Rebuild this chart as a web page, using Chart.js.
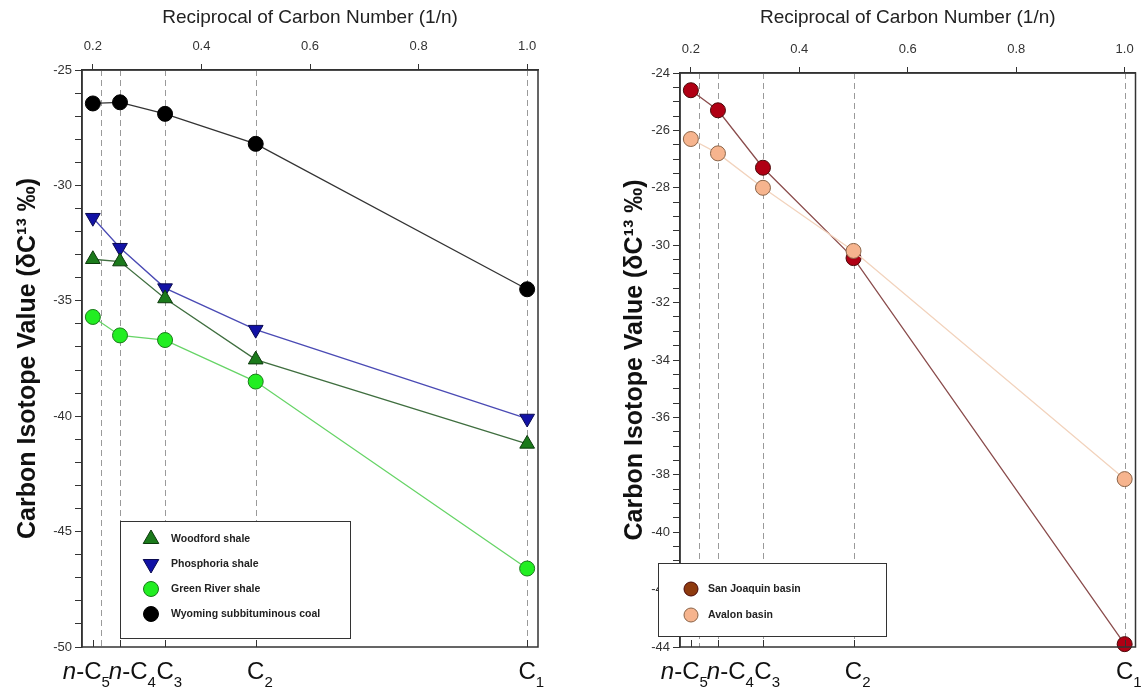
<!DOCTYPE html>
<html>
<head>
<meta charset="utf-8">
<script src="https://cdn.jsdelivr.net/npm/chart.js@4.4.0/dist/chart.umd.min.js"></script>
<style>
  html, body { margin: 0; padding: 0; background: #fff; }
  #wrap { position: relative; width: 1144px; height: 690px; }
  #cLeft { position: absolute; left: 0; top: 0; }
  #cRight { position: absolute; left: 570px; top: 0; }
</style>
</head>
<body>
<div id="wrap">
  <canvas id="cLeft" width="570" height="690"></canvas>
  <canvas id="cRight" width="574" height="690"></canvas>
</div>
<script>
// x = 1/n for n-C5, n-C4, C3, C2, C1
const recipN = [0.2, 0.25, 0.333, 0.5, 1.0];
const carbonLabels = ['n-C5', 'n-C4', 'C3', 'C2', 'C1'];
const guideX = [0.215, 0.25, 0.333, 0.5, 1.0];
const topTicks = [0.2, 0.4, 0.6, 0.8, 1.0];

// left panel (per mil)
const woodford   = [-33.2, -33.3, -34.9, -37.55, -41.2];
const phosphoria = [-31.4, -32.7, -34.45, -36.25, -40.1];
const greenRiver = [-35.7, -36.5, -36.7, -38.5, -46.6];
const wyoming    = [-26.45, -26.4, -26.9, -28.2, -34.5];
const leftNames = ['Woodford shale', 'Phosphoria shale', 'Green River shale', 'Wyoming subbituminous coal'];

// right panel
const sanJoaquin = [-24.6, -25.3, -27.3, -30.45, -43.9];
const avalon     = [-26.3, -26.8, -28.0, -30.2, -38.15];
const rightNames = ['San Joaquin basin', 'Avalon basin'];

const FONT = "'Liberation Sans', Arial, sans-serif";
const yTitle = 'Carbon Isotope Value (\u03B4C\u00B9\u00B3 \u2030)';

function series(label, values, s) {
  return {
    label,
    data: recipN.map((x, i) => ({ x, y: values[i] })),
    borderColor: s.line, borderWidth: 1.3,
    pointStyle: s.style, pointRotation: s.rot || 0, pointRadius: s.r,
    pointHoverRadius: s.r,
    pointBackgroundColor: s.fill, pointBorderColor: s.edge, pointBorderWidth: 1,
    legendFill: s.legend || s.fill,
    tension: 0, clip: false, order: s.order || 0,
  };
}

function yTicks(min, max, step) {
  const out = [];
  for (let v = min; v <= max + 1e-9; v += step) out.push({ value: v });
  return out;
}

function drawCarbonLabels(chart) {
  const ctx = chart.ctx, xs = chart.scales.x;
  const base = chart.chartArea.bottom + 32;
  let prevEnd = -Infinity;
  ctx.save();
  ctx.fillStyle = '#111';
  ctx.textAlign = 'left';
  ctx.textBaseline = 'alphabetic';
  carbonLabels.forEach((lab, i) => {
    const k = lab.indexOf('C');
    const pre = lab.slice(0, k), sub = lab.slice(k + 1);
    ctx.font = `italic 24px ${FONT}`;
    const wn = pre ? ctx.measureText(pre[0]).width : 0;
    ctx.font = `24px ${FONT}`;
    const wd = pre ? ctx.measureText(pre.slice(1)).width : 0;
    const wc = ctx.measureText('C').width;
    ctx.font = `15px ${FONT}`;
    const ws = ctx.measureText(sub).width;
    const px = xs.getPixelForValue(recipN[i]);
    let x0 = px - wc / 2 - wn - wd;
    if (x0 < prevEnd - 1) x0 = prevEnd - 1;
    if (pre) {
      ctx.font = `italic 24px ${FONT}`;
      ctx.fillText(pre[0], x0, base);
      ctx.font = `24px ${FONT}`;
      ctx.fillText(pre.slice(1), x0 + wn, base);
    }
    ctx.font = `24px ${FONT}`;
    ctx.fillText('C', x0 + wn + wd, base);
    ctx.font = `15px ${FONT}`;
    ctx.fillText(sub, x0 + wn + wd + wc, base + 8);
    prevEnd = x0 + wn + wd + wc + ws;
  });
  ctx.restore();
}

function drawLegend(chart, lg) {
  const ctx = chart.ctx;
  ctx.save();
  ctx.fillStyle = '#fff';
  ctx.fillRect(lg.x, lg.y, lg.w, lg.h);
  ctx.strokeStyle = '#333';
  ctx.lineWidth = 1;
  ctx.strokeRect(lg.x + 0.5, lg.y + 0.5, lg.w, lg.h);
  chart.data.datasets.forEach((ds, i) => {
    const cy = lg.y + lg.first + i * lg.row;
    ctx.fillStyle = ds.legendFill;
    ctx.strokeStyle = ds.pointBorderColor;
    ctx.lineWidth = 1;
    Chart.helpers.drawPoint(ctx, {
      pointStyle: ds.pointStyle, rotation: ds.pointRotation,
      radius: ds.pointStyle === 'triangle' ? lg.r + 1.5 : lg.r, borderWidth: 1
    }, lg.x + lg.mx, cy);
    ctx.fillStyle = '#222';
    ctx.font = `bold 10.5px ${FONT}`;
    ctx.textAlign = 'left';
    ctx.textBaseline = 'middle';
    ctx.fillText(ds.label, lg.x + lg.tx, cy);
  });
  ctx.restore();
}

const decor = {
  id: 'decor',
  beforeDatasetsDraw(chart) {
    const { ctx, chartArea: a } = chart;
    const xs = chart.scales.x;
    ctx.save();
    ctx.strokeStyle = '#9a9a9a';
    ctx.lineWidth = 1;
    ctx.setLineDash([6, 4]);
    guideX.forEach(v => {
      const px = Math.round(xs.getPixelForValue(v)) + 0.5;
      ctx.beginPath();
      ctx.moveTo(px, a.top);
      ctx.lineTo(px, a.bottom);
      ctx.stroke();
    });
    ctx.restore();
  },
  afterDraw(chart, args, opts) {
    const { ctx, chartArea: a } = chart;
    const xs = chart.scales.x;
    ctx.save();
    // frame
    ctx.strokeStyle = '#333';
    ctx.lineWidth = 1.5;
    ctx.strokeRect(a.left, a.top, a.right - a.left, a.bottom - a.top);
    // short ticks on the bottom edge
    ctx.lineWidth = 1;
    recipN.forEach(v => {
      const px = Math.round(xs.getPixelForValue(v)) + 0.5;
      ctx.beginPath();
      ctx.moveTo(px, a.bottom);
      ctx.lineTo(px, a.bottom - 7);
      ctx.stroke();
    });
    ctx.restore();
    drawCarbonLabels(chart);
    drawLegend(chart, opts.legend);
  }
};

function makeChart(id, datasets, cfg) {
  return new Chart(document.getElementById(id), {
    type: 'line',
    data: { datasets },
    plugins: [decor],
    options: {
      responsive: false,
      animation: false,
      events: [],
      layout: { padding: { left: 0, right: cfg.padRight, top: 0, bottom: 43 } },
      plugins: {
        legend: { display: false },
        tooltip: { enabled: false },
        decor: { legend: cfg.legend }
      },
      scales: {
        x: {
          type: 'linear', position: 'top', min: 0.18, max: 1.02,
          afterBuildTicks: s => { s.ticks = topTicks.map(v => ({ value: v })); },
          afterFit: s => { s.height = cfg.top; },
          ticks: {
            callback: v => Number(v).toFixed(1), autoSkip: false, maxRotation: 0,
            font: { size: 13, family: FONT }, color: '#333', padding: 10
          },
          grid: { display: true, drawOnChartArea: false, drawTicks: true, tickLength: 6, color: '#333' },
          border: { display: true, color: '#333', width: 1.5 },
          title: {
            display: true, text: 'Reciprocal of Carbon Number (1/n)',
            font: { size: 19, family: FONT }, color: '#222', padding: { top: 6, bottom: 0 }
          }
        },
        y: {
          type: 'linear', position: 'left', min: cfg.yMin, max: cfg.yMax,
          afterBuildTicks: s => { s.ticks = yTicks(cfg.yMin, cfg.yMax, cfg.minor); },
          afterFit: s => { s.width = cfg.yWidth; },
          ticks: {
            callback: v => (Math.abs(v % cfg.major) < 1e-6 ? String(v) : ''),
            autoSkip: false, font: { size: 13, family: FONT }, color: '#333', padding: 3
          },
          grid: { display: true, drawOnChartArea: false, drawTicks: true, tickLength: 7, color: '#333' },
          border: { display: true, color: '#333', width: 1.5 },
          title: {
            display: true, text: yTitle,
            font: { size: 25, weight: 'bold', family: FONT }, color: '#111',
            padding: { top: cfg.titlePad, bottom: 0 }
          }
        }
      }
    }
  });
}

makeChart('cLeft', [
  series(leftNames[0], woodford,   { line: '#3f6e3f', fill: '#1b7a1b', edge: '#0c3a0c', style: 'triangle', r: 8.5 }),
  series(leftNames[1], phosphoria, { line: '#4a4ab4', fill: '#1212a6', edge: '#0a0a50', style: 'triangle', rot: 180, r: 8.5 }),
  series(leftNames[2], greenRiver, { line: '#66d466', fill: '#22ee22', edge: '#1a7a1a', style: 'circle', r: 7.5 }),
  series(leftNames[3], wyoming,    { line: '#333333', fill: '#000000', edge: '#000000', style: 'circle', r: 7.5 })
], {
  padRight: 32, top: 70, yWidth: 82, yMin: -50, yMax: -25, minor: 1, major: 5, titlePad: 13,
  legend: { x: 120, y: 521, w: 230, h: 117, first: 18, row: 25, mx: 31, tx: 51, r: 7.5 }
});

makeChart('cRight', [
  series(rightNames[0], sanJoaquin, { line: '#8a4c4c', fill: '#b00014', edge: '#4a0808', legend: '#8e3a0e', style: 'circle', r: 7.5, order: 1 }),
  series(rightNames[1], avalon,     { line: '#f2d3bd', fill: '#f6b48e', edge: '#8a6448', style: 'circle', r: 7.5, order: 0 })
], {
  padRight: 6, top: 73, yWidth: 110, yMin: -44, yMax: -24, minor: 0.5, major: 2, titlePad: 50,
  legend: { x: 88, y: 563, w: 228, h: 73, first: 26, row: 26, mx: 33, tx: 50, r: 7 }
});
</script>
</body>
</html>
